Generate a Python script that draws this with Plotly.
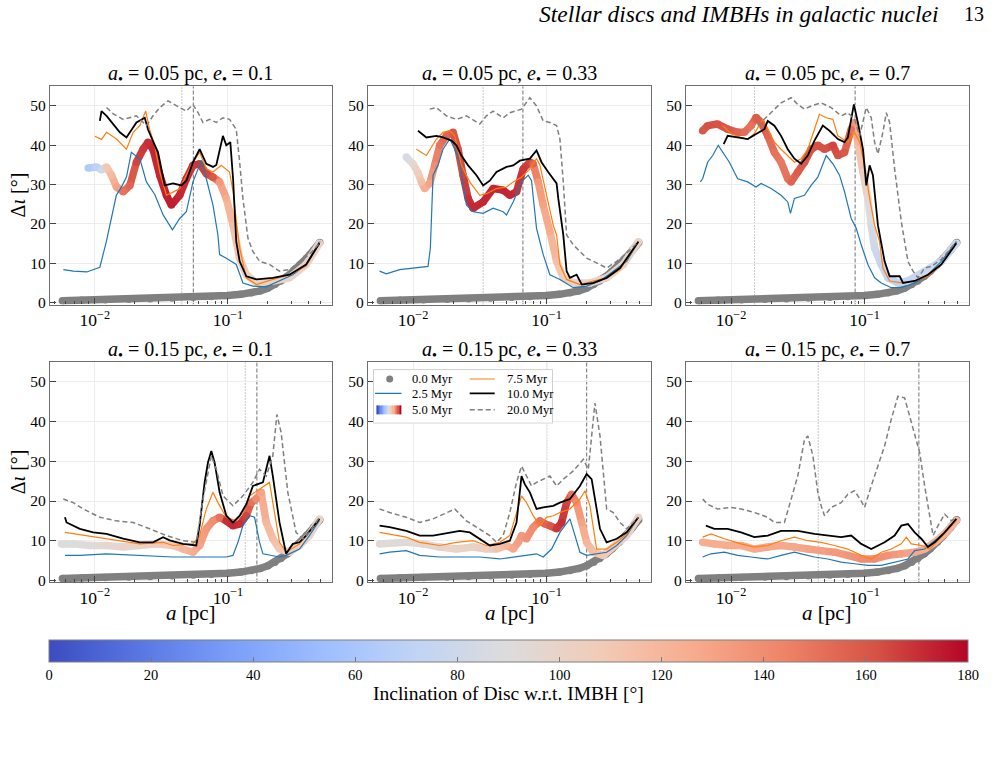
import plotly.graph_objects as go

W, H = 1001, 763
FONT = "Liberation Serif"

# ---------------- data ----------------
A_STAR = ["0.05", "0.05", "0.05", "0.15", "0.15", "0.15"]
E_STAR = ["0.1", "0.33", "0.7", "0.1", "0.33", "0.7"]

T00_A = [0.0057, 0.008, 0.012, 0.018, 0.026, 0.038, 0.055, 0.075, 0.1, 0.125, 0.15, 0.175, 0.2, 0.225, 0.25, 0.28, 0.31, 0.35, 0.39, 0.44, 0.49]
T00_Y = [0.5, 0.6, 0.7, 0.85, 1.0, 1.15, 1.35, 1.55, 1.8, 2.1, 2.5, 3.0, 3.7, 4.6, 5.5, 6.7, 8.0, 9.6, 11.3, 13.3, 15.3]

# panel 1 : a=0.05, e=0.1
P1_A25 = [0.0058, 0.0069, 0.0087, 0.0109, 0.0122, 0.0133, 0.0145, 0.0159, 0.0173, 0.0188, 0.0218, 0.0244, 0.0282, 0.0326, 0.0383, 0.0434, 0.0487, 0.0546, 0.0631, 0.0688, 0.0772, 0.0841, 0.0866, 0.0972, 0.1155, 0.1296, 0.154, 0.194, 0.244, 0.307, 0.387, 0.487]
P1_Y25 = [8.4, 8.0, 7.8, 9.0, 15.5, 21.0, 27.3, 29.5, 32.0, 38.2, 36.5, 30.7, 27.5, 22.3, 18.5, 21.4, 23.1, 30.7, 36.1, 31.5, 24.8, 17.2, 12.2, 11.3, 9.7, 5.0, 4.2, 4.0, 5.5, 7.1, 9.7, 15.5]
P1_A50 = [0.00891, 0.01029, 0.01122, 0.01224, 0.01334, 0.01454, 0.01633, 0.01834, 0.02054, 0.02304, 0.02512, 0.02738, 0.03076, 0.03451, 0.03758, 0.0434, 0.0487, 0.0546, 0.0613, 0.0688, 0.0772, 0.0866, 0.0972, 0.1093, 0.1225, 0.1374, 0.1637, 0.2175, 0.2901, 0.387, 0.487]
P1_Y50 = [34.2, 34.5, 33.8, 34.5, 32.4, 29.4, 28.2, 29.8, 35.7, 39, 40.8, 39, 32.4, 27.3, 24.8, 27.3, 31.5, 34.9, 35.3, 32.8, 31.9, 30.7, 26.5, 19.7, 11.3, 7.1, 5.0, 5.5, 6.3, 9.7, 15.1]
P1_I50 = [65, 70, 80, 110, 118, 130, 150, 155, 165, 168, 170, 172, 172, 174, 174, 172, 170, 168, 168, 165, 160, 135, 125, 115, 110, 105, 100, 100, 100, 100, 100]
P1_A75 = [0.01, 0.01122, 0.01224, 0.01454, 0.01728, 0.01939, 0.02175, 0.0241, 0.02582, 0.0282, 0.03076, 0.03451, 0.0387, 0.0434, 0.0487, 0.0546, 0.0613, 0.0688, 0.0772, 0.0891, 0.1028, 0.1093, 0.119, 0.1225, 0.1374, 0.1637, 0.2175, 0.2901, 0.387, 0.487]
P1_Y75 = [42.3, 41.5, 43.3, 41.6, 39, 43.3, 45, 48.7, 44, 40, 33.2, 27.3, 28.1, 29, 32.4, 35.7, 38.2, 34, 33.2, 34.9, 33.2, 28.2, 17.2, 13.9, 6.3, 4.6, 5.9, 7.1, 9.3, 15.1]
P1_A100 = [0.0109, 0.01122, 0.01224, 0.0154, 0.01728, 0.02054, 0.02371, 0.0251, 0.02738, 0.02985, 0.0335, 0.0387, 0.0447, 0.0487, 0.0546, 0.0613, 0.0688, 0.0772, 0.0818, 0.0917, 0.0972, 0.1042, 0.1093, 0.1155, 0.1225, 0.1374, 0.1637, 0.2175, 0.2901, 0.387, 0.487]
P1_Y100 = [46.2, 48.7, 47.5, 43.3, 42, 45.8, 47, 44, 41, 38.2, 29.8, 30.3, 29.8, 31, 35.7, 39, 35.3, 34.5, 35, 42.4, 40, 40.8, 31.5, 15.5, 10.5, 6.7, 5.9, 6.3, 7.1, 9.7, 15.1]
P1_A200 = [0.01224, 0.01374, 0.01633, 0.02054, 0.02441, 0.02738, 0.03076, 0.03548, 0.0434, 0.0487, 0.0546, 0.0596, 0.0649, 0.0729, 0.0818, 0.0917, 0.1028, 0.1155, 0.1225, 0.1296, 0.1413, 0.154, 0.1729, 0.2054, 0.2441, 0.2901, 0.3447, 0.4093, 0.4993]
P1_Y200 = [49.6, 48, 46.6, 47.5, 45, 47.5, 49.6, 51.3, 49.6, 48.7, 50.4, 48.3, 45.8, 46.6, 45.8, 47, 46.6, 44, 35.7, 26.5, 16.4, 13, 10.5, 9.7, 8, 8.4, 10.5, 12.2, 15.5]

# panel 2 : a=0.05, e=0.33
P2_A25 = [0.00562, 0.00631, 0.00794, 0.01059, 0.01296, 0.01349, 0.01413, 0.01539, 0.01679, 0.01884, 0.02054, 0.02239, 0.02512, 0.02818, 0.0335, 0.03981, 0.04732, 0.05012, 0.05623, 0.06494, 0.07286, 0.07718, 0.0841, 0.0944, 0.1059, 0.1259, 0.1585, 0.1995, 0.2512, 0.3162, 0.3981, 0.487]
P2_Y25 = [8.0, 7.3, 8.4, 8.8, 9.2, 13.9, 32.4, 34.9, 39, 41.6, 39, 35.7, 24.8, 23.1, 22.7, 24, 23.1, 22.3, 25.6, 30.7, 32.4, 31, 18.9, 12.2, 7.1, 5.9, 3.8, 4.2, 5.5, 8, 10.5, 15.5]
P2_A50 = [0.00891, 0.01, 0.0109, 0.01155, 0.01223, 0.01334, 0.01454, 0.01585, 0.01778, 0.01995, 0.02175, 0.02371, 0.02585, 0.02818, 0.0335, 0.03981, 0.04732, 0.05309, 0.05957, 0.06683, 0.075, 0.0794, 0.0866, 0.0944, 0.1059, 0.1189, 0.1334, 0.1585, 0.2113, 0.2818, 0.3758, 0.487]
P2_Y50 = [37, 35.3, 33, 30.7, 29, 30.3, 34.9, 40, 42.4, 43.3, 39, 32.4, 26.5, 24, 25.6, 29, 28.6, 27.3, 28.2, 34, 35.7, 35.3, 30.7, 24.8, 18.1, 10.5, 6.3, 5, 5, 6.3, 9.7, 15.5]
P2_I50 = [85, 95, 105, 115, 125, 130, 140, 150, 155, 160, 162, 165, 170, 172, 172, 172, 172, 172, 170, 168, 165, 155, 135, 130, 125, 115, 105, 100, 100, 100, 100, 100]
P2_A75 = [0.01059, 0.01259, 0.01496, 0.01679, 0.01884, 0.02054, 0.02303, 0.0266, 0.03162, 0.03548, 0.04217, 0.05012, 0.05623, 0.06494, 0.075, 0.0841, 0.0891, 0.1, 0.1122, 0.1189, 0.1259, 0.1413, 0.1778, 0.2239, 0.2818, 0.3548, 0.487]
P2_Y75 = [39, 37.4, 41.6, 43.3, 43.7, 42.4, 34.9, 30.7, 27.3, 27.7, 29, 29.4, 30.7, 31.9, 34, 36.6, 35, 27.3, 19.7, 17.2, 9.7, 5.9, 4.6, 5.5, 6.3, 8.4, 15.5]
P2_A100 = [0.0109, 0.01259, 0.01496, 0.01679, 0.01941, 0.02113, 0.02303, 0.02585, 0.02985, 0.0335, 0.03758, 0.04217, 0.05012, 0.05623, 0.0631, 0.075, 0.0841, 0.0917, 0.1028, 0.1189, 0.1224, 0.1334, 0.1413, 0.1496, 0.1679, 0.1834, 0.2239, 0.2818, 0.3548, 0.487]
P2_Y100 = [43.7, 42, 42.4, 42, 41.2, 40, 37.4, 34.9, 32.4, 29.8, 31, 33.2, 34.5, 34.9, 36.1, 36.6, 38.7, 35.7, 33.2, 30.3, 26.5, 17.2, 8, 6.3, 7.1, 4.6, 5.0, 6.3, 8.8, 15.5]
P2_A200 = [0.01334, 0.01496, 0.01778, 0.02113, 0.02512, 0.03162, 0.03548, 0.03981, 0.04732, 0.05309, 0.06494, 0.075, 0.0841, 0.0944, 0.1059, 0.1189, 0.1259, 0.1334, 0.1413, 0.1585, 0.1778, 0.1995, 0.2239, 0.2512, 0.2818, 0.335, 0.3981, 0.487]
P2_Y200 = [49.2, 49.6, 47.5, 46.6, 47.5, 45.4, 47.5, 48.7, 47, 48.3, 49.2, 52.1, 50, 46.2, 45.8, 45, 41.6, 30.7, 17.2, 14.7, 13, 11.3, 10.5, 9.7, 8.8, 10.5, 12.6, 15.5]

# panel 3 : a=0.05, e=0.7
P3_A25 = [0.00589, 0.00613, 0.00668, 0.00729, 0.00803, 0.00866, 0.00972, 0.01122, 0.01334, 0.0154, 0.01679, 0.01995, 0.02371, 0.02661, 0.02786, 0.02985, 0.03548, 0.03981, 0.04467, 0.05164, 0.05795, 0.06494, 0.07079, 0.07943, 0.0866, 0.09441, 0.1059, 0.1189, 0.1334, 0.1585, 0.1884, 0.2371, 0.2985, 0.3758, 0.487]
P3_Y25 = [30.7, 31.5, 35.7, 37.4, 40, 38.2, 35.7, 31.5, 30.7, 29.4, 30.3, 29, 27.3, 25.6, 22.7, 26.5, 27.3, 29.8, 31.9, 37.4, 35.3, 32.4, 28.2, 21.4, 18.9, 14.7, 9.7, 6.3, 5.0, 3.8, 3.8, 5.0, 7.1, 10.5, 15.5]
P3_A50 = [0.00613, 0.00668, 0.00794, 0.00944, 0.01122, 0.01259, 0.01413, 0.0154, 0.01679, 0.01884, 0.02113, 0.02371, 0.02661, 0.02818, 0.03162, 0.03548, 0.03981, 0.04467, 0.05012, 0.05795, 0.0631, 0.07079, 0.07943, 0.08414, 0.08913, 0.09727, 0.1059, 0.1122, 0.1189, 0.1334, 0.1496, 0.1778, 0.2113, 0.2818, 0.3758, 0.487]
P3_Y50 = [43.7, 45, 45.4, 44.1, 43.3, 43.3, 45, 47.1, 45.8, 42.4, 38.2, 35.7, 31.5, 30.7, 33.2, 35.7, 39, 40, 39, 40, 37.4, 38.2, 44.1, 45.8, 40.8, 33.2, 26.5, 19.7, 13.9, 9.7, 6.3, 5.0, 5.5, 8, 10.5, 15.1]
P3_I50 = [160, 162, 162, 160, 155, 152, 150, 158, 158, 155, 150, 148, 150, 155, 158, 160, 162, 162, 162, 165, 162, 160, 150, 135, 120, 105, 95, 85, 80, 75, 72, 72, 75, 80, 80, 80]
P3_A75 = [0.00866, 0.01, 0.01189, 0.01334, 0.01496, 0.01728, 0.01884, 0.02113, 0.02371, 0.02661, 0.02985, 0.0335, 0.03758, 0.04217, 0.04597, 0.05164, 0.05795, 0.0631, 0.0688, 0.07499, 0.08414, 0.09183, 0.1, 0.1091, 0.1189, 0.1296, 0.1372, 0.154, 0.1884, 0.2371, 0.2985, 0.3758, 0.487]
P3_Y75 = [45, 43, 42, 41.5, 43, 46.6, 44.1, 40.8, 39, 37.4, 35.7, 36.6, 39, 44.1, 47.9, 47, 46.6, 42.4, 41.6, 40.8, 43.3, 40.8, 34.9, 26.5, 19.7, 15.5, 8.8, 5.5, 5.0, 5.5, 6.7, 9.7, 15.1]
P3_A100 = [0.00881, 0.00944, 0.01122, 0.01334, 0.0154, 0.01778, 0.01884, 0.02113, 0.02371, 0.02661, 0.02985, 0.0335, 0.03758, 0.04217, 0.0487, 0.05463, 0.0631, 0.07079, 0.07499, 0.08318, 0.08913, 0.09727, 0.103, 0.1091, 0.1155, 0.1259, 0.1413, 0.154, 0.1832, 0.1941, 0.2371, 0.2985, 0.3758, 0.487]
P3_Y100 = [40.3, 42.4, 42, 41.6, 42.9, 44.1, 46.2, 45, 42.4, 39, 36.6, 35.3, 37.4, 41.2, 45, 43.7, 41.6, 40.8, 42, 50.4, 45.8, 39, 29.8, 34.9, 32.4, 19.7, 10.5, 6.7, 6.7, 5.0, 5.5, 7.1, 9.7, 15.1]
P3_A200 = [0.01585, 0.01884, 0.02113, 0.02371, 0.02818, 0.03162, 0.03548, 0.03981, 0.04732, 0.05623, 0.06683, 0.07499, 0.08414, 0.09183, 0.103, 0.1122, 0.1189, 0.1259, 0.1372, 0.1454, 0.154, 0.1679, 0.1884, 0.2113, 0.2307, 0.2512, 0.2818, 0.3162, 0.3758, 0.487]
P3_Y200 = [45, 47.5, 49.2, 50.8, 52.1, 50.4, 49.2, 50, 50.8, 49.6, 47.5, 48.3, 46.6, 42.4, 49.6, 47, 40.8, 37.8, 43.3, 48.3, 45.8, 34, 20.6, 10.5, 8, 6.3, 8.8, 9.2, 11, 15.5]

# panel 4 : a=0.15, e=0.1
P4_A25 = [0.00596, 0.00772, 0.01223, 0.02175, 0.03868, 0.0688, 0.09727, 0.1091, 0.1189, 0.1296, 0.1454, 0.1585, 0.1729, 0.1832, 0.2175, 0.2441, 0.2738, 0.3451, 0.4093, 0.487]
P4_Y25 = [6.3, 6.3, 6.7, 6.3, 5.9, 5.9, 5.9, 6.3, 9.6, 13.8, 16.3, 15.9, 9.6, 6.7, 6.3, 5.9, 6.3, 7.9, 11.3, 15.1]
P4_A50 = [0.00562, 0.00688, 0.00917, 0.01223, 0.01633, 0.02175, 0.02901, 0.03868, 0.04597, 0.05463, 0.06124, 0.0688, 0.07718, 0.0866, 0.09727, 0.1091, 0.1225, 0.1374, 0.1496, 0.1633, 0.1778, 0.1941, 0.2175, 0.2441, 0.2901, 0.3451, 0.4093, 0.487]
P4_Y50 = [9.2, 9.2, 8.8, 8.8, 8.4, 8.8, 9.2, 8.8, 7.9, 7.1, 8.8, 13, 15, 15.9, 15, 13.8, 14.2, 16.3, 19.6, 20.5, 22.2, 14.6, 10.5, 7.9, 7.1, 8.8, 11.3, 15.5]
P4_I50 = [90, 90, 92, 95, 98, 100, 105, 110, 120, 125, 130, 135, 140, 150, 170, 172, 170, 165, 150, 140, 130, 120, 115, 110, 105, 105, 100, 100]
P4_A75 = [0.00596, 0.00772, 0.01223, 0.02175, 0.03256, 0.03868, 0.05463, 0.06124, 0.0688, 0.07718, 0.08414, 0.09727, 0.1155, 0.1296, 0.1454, 0.1729, 0.2054, 0.2175, 0.2441, 0.2738, 0.3451, 0.487]
P4_Y75 = [12.1, 11.5, 10.5, 9.2, 9.6, 8.8, 9.2, 11.3, 18, 22.2, 19.6, 15.9, 15, 17.1, 21.3, 23, 24.7, 19.6, 9.6, 7.1, 9.2, 15.5]
P4_A100 = [0.00596, 0.00613, 0.00772, 0.00972, 0.01223, 0.01633, 0.02175, 0.02738, 0.03256, 0.03652, 0.04597, 0.05783, 0.06124, 0.06683, 0.07079, 0.07499, 0.07943, 0.0866, 0.09727, 0.1091, 0.1225, 0.1374, 0.154, 0.1832, 0.2054, 0.2175, 0.2441, 0.2738, 0.3072, 0.3447, 0.3868, 0.487]
P4_Y100 = [15.9, 14.6, 13, 12.1, 11.7, 10.5, 9.6, 9.6, 10.9, 10.1, 9.2, 8.8, 13.8, 24.7, 29.7, 32.6, 29.7, 22.2, 16.3, 14.6, 16.3, 19.2, 23.8, 24.7, 31.4, 26.3, 14.6, 6.7, 9.2, 9.6, 11.3, 15.5]
P4_A200 = [0.00579, 0.00688, 0.00818, 0.0109, 0.01454, 0.01939, 0.02582, 0.03451, 0.04597, 0.05783, 0.06494, 0.07499, 0.08183, 0.09183, 0.1091, 0.1296, 0.154, 0.1729, 0.1941, 0.2175, 0.2333, 0.2512, 0.2818, 0.3251, 0.3652, 0.4093, 0.487]
P4_Y200 = [20.5, 19.6, 18, 15.9, 15, 14.6, 13, 11.3, 10, 9.6, 20.5, 31.4, 28, 21.3, 18.8, 21.3, 24.7, 28, 26.3, 31.4, 41.8, 37.2, 22.2, 12.1, 10.5, 12.1, 15.9]

# panel 5 : a=0.15, e=0.33
P5_A25 = [0.00562, 0.00668, 0.00891, 0.01122, 0.01585, 0.02239, 0.03162, 0.04467, 0.05623, 0.07079, 0.08414, 0.09441, 0.1, 0.1091, 0.1259, 0.1496, 0.1633, 0.1778, 0.1995, 0.2371, 0.2818, 0.335, 0.3981, 0.487]
P5_Y25 = [6.7, 7.1, 7.5, 6.3, 5.9, 5.9, 5.9, 5.4, 5.9, 6.3, 6.7, 5.9, 6.7, 7.9, 12.1, 15.5, 11.3, 7.1, 6.3, 6.7, 7.1, 8.8, 11.3, 15.9]
P5_A50 = [0.00562, 0.00891, 0.01189, 0.01585, 0.02113, 0.02818, 0.03548, 0.04217, 0.05012, 0.05623, 0.06138, 0.06494, 0.07079, 0.07943, 0.08913, 0.09727, 0.1059, 0.1189, 0.1296, 0.1413, 0.154, 0.1679, 0.1832, 0.1995, 0.2239, 0.2661, 0.335, 0.3981, 0.487]
P5_Y50 = [9.2, 9.6, 9.2, 8.4, 7.9, 8.4, 7.9, 7.9, 8.8, 7.9, 9.6, 11.3, 10.5, 13.4, 15, 14.2, 13.8, 13, 14.6, 19.6, 21.7, 19.6, 14.6, 9.6, 7.1, 6.3, 9.2, 11.3, 15.9]
P5_I50 = [92, 92, 95, 98, 100, 102, 105, 112, 120, 128, 132, 135, 138, 140, 150, 155, 160, 168, 170, 165, 150, 140, 130, 120, 115, 110, 105, 100, 100]
P5_A75 = [0.00562, 0.00668, 0.00891, 0.01122, 0.01585, 0.02113, 0.02818, 0.03548, 0.04467, 0.05309, 0.05957, 0.06494, 0.07079, 0.07943, 0.08913, 0.1, 0.1122, 0.1259, 0.1496, 0.1778, 0.1941, 0.2113, 0.2371, 0.2818, 0.335, 0.3981, 0.487]
P5_Y75 = [12.1, 11.7, 10.9, 9.6, 8.8, 9.6, 10, 8.8, 9.6, 11.3, 17.1, 21.3, 19.6, 16.3, 13.8, 15.9, 16.3, 17.1, 18, 20.5, 22.6, 18.8, 7.9, 7.9, 9.6, 11.7, 15.9]
P5_A100 = [0.00562, 0.00668, 0.00891, 0.01122, 0.01413, 0.01884, 0.02239, 0.02661, 0.0335, 0.03758, 0.04467, 0.05309, 0.05957, 0.06494, 0.0688, 0.07499, 0.08414, 0.09441, 0.1122, 0.1259, 0.1496, 0.1778, 0.1995, 0.2175, 0.2371, 0.2512, 0.2818, 0.335, 0.3981, 0.487]
P5_Y100 = [13.8, 13.4, 12.5, 11.3, 11.3, 12.1, 12.5, 12.1, 10, 8.8, 9.2, 10, 14.6, 26.3, 24.2, 22.2, 18, 18.4, 18.8, 19.6, 20.5, 23.8, 26.8, 25.5, 18, 13, 9.6, 10.5, 12.1, 15.9]
P5_A200 = [0.00562, 0.00668, 0.00891, 0.01122, 0.01413, 0.01778, 0.02054, 0.02512, 0.03162, 0.03758, 0.04217, 0.04732, 0.05309, 0.05957, 0.06494, 0.07079, 0.07718, 0.08414, 0.09441, 0.1059, 0.1189, 0.1334, 0.1585, 0.1884, 0.2054, 0.2303, 0.2512, 0.2818, 0.3162, 0.3548, 0.3981, 0.487]
P5_Y200 = [18, 17.1, 15.9, 14.6, 15.5, 17.1, 18, 15, 13, 11.3, 9.6, 11.3, 17.1, 24.7, 28.8, 26.3, 23.8, 24.7, 25.5, 26.3, 23.8, 25.5, 27.6, 30.5, 28, 44.7, 36.4, 18, 17.1, 14.6, 13, 15.9]

# panel 6 : a=0.15, e=0.7
P6_A25 = [0.00613, 0.00708, 0.00891, 0.01122, 0.01413, 0.01884, 0.02371, 0.02985, 0.0335, 0.04217, 0.05309, 0.06683, 0.08414, 0.1059, 0.1334, 0.1679, 0.2113, 0.2371, 0.2818, 0.335, 0.3981, 0.487]
P6_Y25 = [5.9, 6.7, 7.1, 6.3, 5.9, 5.4, 6.3, 7.1, 6.7, 5.9, 5.4, 4.6, 4.2, 3.8, 3.8, 4.6, 5.4, 7.5, 7.9, 10, 12.1, 15.5]
P6_A50 = [0.00613, 0.0075, 0.00944, 0.01189, 0.01496, 0.01884, 0.02371, 0.02985, 0.03758, 0.04732, 0.05957, 0.07499, 0.09441, 0.1189, 0.1496, 0.1884, 0.2371, 0.2818, 0.335, 0.3981, 0.487]
P6_Y50 = [9.6, 9.2, 8.8, 8.8, 7.9, 8.4, 8.8, 8.4, 7.9, 7.5, 7.1, 6.3, 5.4, 5.4, 6.3, 6.7, 7.1, 7.9, 9.6, 11.7, 15.1]
P6_I50 = [125, 125, 126, 126, 127, 128, 128, 128, 130, 132, 134, 136, 140, 140, 138, 132, 128, 125, 122, 120, 120]
P6_A75 = [0.00613, 0.00708, 0.00891, 0.01189, 0.01496, 0.01884, 0.02371, 0.02985, 0.03758, 0.04732, 0.05957, 0.07499, 0.09441, 0.1122, 0.1334, 0.1585, 0.1884, 0.2054, 0.2239, 0.2661, 0.3076, 0.3758, 0.487]
P6_Y75 = [10.9, 11.7, 10.5, 9.2, 8.4, 8.8, 10, 10.9, 10, 9.6, 8.8, 7.9, 6.3, 5.4, 7.1, 7.9, 9.2, 10.9, 9.2, 8.8, 7.9, 10.9, 15.1]
P6_A100 = [0.00649, 0.0075, 0.00944, 0.01189, 0.01496, 0.01884, 0.02371, 0.03162, 0.04217, 0.05309, 0.06683, 0.07943, 0.09441, 0.1122, 0.1259, 0.1413, 0.1679, 0.1884, 0.2113, 0.2371, 0.2661, 0.2985, 0.335, 0.3981, 0.487]
P6_Y100 = [13.8, 13, 13, 12.1, 10.9, 11.3, 12.5, 12.5, 11.7, 11.3, 10.9, 11.3, 9.2, 7.9, 8.8, 9.6, 11.3, 13.8, 14.2, 12.1, 10.5, 8.4, 9.6, 12.1, 15.5]
P6_A200 = [0.00613, 0.00668, 0.00794, 0.01, 0.01189, 0.01496, 0.01884, 0.02113, 0.02512, 0.02818, 0.03162, 0.03548, 0.03758, 0.04103, 0.04467, 0.04732, 0.05012, 0.05623, 0.06683, 0.07499, 0.08414, 0.09441, 0.1, 0.1122, 0.1259, 0.1413, 0.1585, 0.1778, 0.1995, 0.2113, 0.2371, 0.2585, 0.2818, 0.3076, 0.3258, 0.3548, 0.3981, 0.4467, 0.487]
P6_Y200 = [20.5, 19.2, 18, 18.4, 18, 17.1, 15.9, 14.6, 14.6, 20.5, 26.3, 35.5, 36.4, 31.4, 22.2, 18.8, 16.3, 18.4, 19.6, 21.7, 22.6, 20, 18.4, 23.8, 28.8, 33.9, 40.6, 46.4, 46, 43, 37.2, 32.2, 23.8, 16.3, 11.3, 13.8, 16.7, 15, 15.9]

YTICKS = [0, 10, 20, 30, 40, 50]
CBAR_TICKS = [0, 20, 40, 60, 80, 100, 120, 140, 160, 180]
LEGEND_LABELS = ["0.0 Myr", "2.5 Myr", "5.0 Myr", "7.5 Myr", "10.0 Myr", "20.0 Myr"]

# ---------------- styling ----------------
COOLWARM = [[0.0, '#3b4cc0'], [0.1, '#5977e3'], [0.2, '#7b9ff9'], [0.3, '#9ebeff'],
            [0.4, '#c0d4f5'], [0.5, '#dddcdc'], [0.6, '#f2cbb7'], [0.7, '#f7ac8e'],
            [0.8, '#ee8468'], [0.9, '#d65244'], [1.0, '#b40426']]
C00, C25, C75, C100, C200 = '#808080', '#1f77b4', '#ff7f0e', '#000000', '#7f7f7f'


def hex2rgb(h):
    h = h.lstrip('#')
    return [int(h[i:i + 2], 16) for i in (0, 2, 4)]


def cw(v):
    t = min(max(v / 180.0, 0.0), 1.0)
    for i in range(len(COOLWARM) - 1):
        t0, c0 = COOLWARM[i]
        t1, c1 = COOLWARM[i + 1]
        if t <= t1:
            f = (t - t0) / (t1 - t0)
            a, b = hex2rgb(c0), hex2rgb(c1)
            return 'rgb(%d,%d,%d)' % tuple(round(a[k] + f * (b[k] - a[k])) for k in range(3))
    return COOLWARM[-1][1]


PANELS = [
    (P1_A25, P1_Y25, P1_A50, P1_Y50, P1_I50, P1_A75, P1_Y75, P1_A100, P1_Y100, P1_A200, P1_Y200),
    (P2_A25, P2_Y25, P2_A50, P2_Y50, P2_I50, P2_A75, P2_Y75, P2_A100, P2_Y100, P2_A200, P2_Y200),
    (P3_A25, P3_Y25, P3_A50, P3_Y50, P3_I50, P3_A75, P3_Y75, P3_A100, P3_Y100, P3_A200, P3_Y200),
    (P4_A25, P4_Y25, P4_A50, P4_Y50, P4_I50, P4_A75, P4_Y75, P4_A100, P4_Y100, P4_A200, P4_Y200),
    (P5_A25, P5_Y25, P5_A50, P5_Y50, P5_I50, P5_A75, P5_Y75, P5_A100, P5_Y100, P5_A200, P5_Y200),
    (P6_A25, P6_Y25, P6_A50, P6_Y50, P6_I50, P6_A75, P6_Y75, P6_A100, P6_Y100, P6_A200, P6_Y200),
]

XDOM = [[50 / W, 332 / W], [368 / W, 651 / W], [686 / W, 969 / W]]
YDOM = [[1 - 307 / H, 1 - 87 / H], [1 - 587 / H, 1 - 365 / H]]
TITLE_Y = [1 - 75 / H, 1 - 353 / H]
YRANGE = [-0.5, 55]

fig = go.Figure()
layout = dict(width=W, height=H, margin=dict(l=0, r=0, t=0, b=0),
              paper_bgcolor='white', plot_bgcolor='white', showlegend=False,
              hovermode=False, font=dict(family=FONT, color='black', size=14))
annotations = []
shapes = []

for k, P in enumerate(PANELS):
    a25, y25, a50, y50, i50, a75, y75, a100, y100, a200, y200 = P
    for xs, ys in [(a25, y25), (a50, y50), (a75, y75), (a100, y100), (a200, y200), (T00_A, T00_Y)]:
        assert len(xs) == len(ys), (k, len(xs), len(ys))
    assert len(i50) == len(a50)
    r, c = divmod(k, 3)
    sfx = '' if k == 0 else str(k + 1)
    xr, yr = 'x' + sfx, 'y' + sfx
    kw = dict(xaxis=xr, yaxis=yr, showlegend=False, hoverinfo='skip')

    # 0.0 Myr
    fig.add_trace(go.Scatter(x=T00_A, y=T00_Y, mode='lines+markers',
                             line=dict(color=C00, width=7.5), marker=dict(color=C00, size=7.5), **kw))
    # 5.0 Myr (coloured by inclination)
    for j in range(len(a50) - 1):
        fig.add_trace(go.Scatter(x=[a50[j], a50[j + 1]], y=[y50[j], y50[j + 1]], mode='lines',
                                 line=dict(color=cw((i50[j] + i50[j + 1]) / 2), width=7.5), **kw))
    fig.add_trace(go.Scatter(x=a50, y=y50, mode='markers',
                             marker=dict(size=7.5, color=i50, coloraxis='coloraxis'), **kw))
    # 2.5 / 7.5 / 10 / 20 Myr
    fig.add_trace(go.Scatter(x=a25, y=y25, mode='lines', line=dict(color=C25, width=1.2), **kw))
    fig.add_trace(go.Scatter(x=a75, y=y75, mode='lines', line=dict(color=C75, width=1.2), **kw))
    fig.add_trace(go.Scatter(x=a100, y=y100, mode='lines', line=dict(color=C100, width=1.8), **kw))
    fig.add_trace(go.Scatter(x=a200, y=y200, mode='lines',
                             line=dict(color=C200, width=1.5, dash='5px,3px'), **kw))

    astar, estar = float(A_STAR[k]), float(E_STAR[k])
    peri, apo = astar * (1 - estar), astar * (1 + estar)
    shapes.append(dict(type='line', xref=xr, yref=yr, x0=peri, x1=peri, y0=YRANGE[0], y1=YRANGE[1],
                       layer='below', line=dict(color='#9a9a9a', width=1.1, dash='1px,2px')))
    shapes.append(dict(type='line', xref=xr, yref=yr, x0=apo, x1=apo, y0=YRANGE[0], y1=YRANGE[1],
                       layer='below', line=dict(color='#8a8a8a', width=1.2, dash='4px,2px')))

    layout['xaxis' + sfx] = dict(domain=XDOM[c], anchor=yr, type='log', range=[-2.337, -0.218],
                                 dtick=1, exponentformat='power', showexponent='all',
                                 ticks='inside', ticklen=6, tickwidth=1, tickcolor='#444',
                                 minor=dict(ticks='inside', ticklen=3, tickwidth=0.8, tickcolor='#444',
                                            dtick='D1', showgrid=False),
                                 showgrid=True, gridcolor='#ececec', gridwidth=1,
                                 showline=True, mirror=True, linecolor='#6e6e6e', linewidth=1.3,
                                 zeroline=False, tickfont=dict(size=14, family=FONT, color='black'))
    layout['yaxis' + sfx] = dict(domain=YDOM[r], anchor=xr, range=YRANGE, tickvals=YTICKS,
                                 ticks='inside', ticklen=6, tickwidth=1, tickcolor='#444',
                                 showgrid=True, gridcolor='#ececec', gridwidth=1,
                                 showline=True, mirror=True, linecolor='#6e6e6e', linewidth=1.3,
                                 zeroline=False, tickfont=dict(size=15.5, family=FONT, color='black'))
    xc = (XDOM[c][0] + XDOM[c][1]) / 2
    annotations.append(dict(xref='paper', yref='paper', x=xc, y=TITLE_Y[r], xanchor='center', yanchor='middle',
                            showarrow=False, font=dict(size=20, family=FONT),
                            text='<i>a</i><sub>•</sub> = %s pc, <i>e</i><sub>•</sub> = %s' % (A_STAR[k], E_STAR[k])))
    if c == 0:
        annotations.append(dict(xref='paper', yref='paper', x=18 / W, y=(YDOM[r][0] + YDOM[r][1]) / 2,
                                xanchor='center', yanchor='middle', textangle=-90, showarrow=False,
                                font=dict(size=20, family=FONT), text='Δ<i>ι</i> [°]'))
    if r == 1:
        annotations.append(dict(xref='paper', yref='paper', x=xc, y=1 - 618 / H, xanchor='center',
                                yanchor='middle', showarrow=False, font=dict(size=21, family=FONT),
                                text='<i>a</i> [pc]'))

# ---------------- legend (drawn in panel 5) ----------------
LX, LY = 'x7', 'y7'
lkw = dict(xaxis=LX, yaxis=LY, showlegend=False, hoverinfo='skip')
fig.add_trace(go.Heatmap(z=[[0]], x=[0, 180], y=[0, 55], zmin=0, zmax=1, opacity=0.85,
                         colorscale=[[0, 'white'], [1, 'white']], showscale=False,
                         xaxis=LX, yaxis=LY, hoverinfo='skip'))
fig.add_trace(go.Heatmap(z=[list(range(0, 181, 10))], x=[3.4 + 25 * i / 19 for i in range(20)],
                         y=[36.6, 45.6], coloraxis='coloraxis', xaxis=LX, yaxis=LY, hoverinfo='skip'))
fig.add_trace(go.Scatter(x=[0.5, 179.5, 179.5, 0.5, 0.5], y=[0.5, 0.5, 54.5, 54.5, 0.5], mode='lines',
                         line=dict(color='#d0d0d0', width=1), **lkw))
fig.add_trace(go.Scatter(x=[16.7], y=[10], mode='markers', marker=dict(color=C00, size=7), **lkw))
fig.add_trace(go.Scatter(x=[2, 28.5], y=[24.5, 24.5], mode='lines', line=dict(color=C25, width=1.2), **lkw))
fig.add_trace(go.Scatter(x=[96.7, 121.7], y=[10, 10], mode='lines', line=dict(color=C75, width=1.2), **lkw))
fig.add_trace(go.Scatter(x=[96.7, 121.7], y=[24.5, 24.5], mode='lines', line=dict(color=C100, width=1.8), **lkw))
fig.add_trace(go.Scatter(x=[96.7, 121.7], y=[41, 41], mode='lines',
                         line=dict(color=C200, width=1.5, dash='5px,3px'), **lkw))
for txt, lx, ly in zip(LEGEND_LABELS, [36.7, 36.7, 36.7, 131.7, 131.7, 131.7], [10, 24.8, 41.3, 10, 24.8, 41.3]):
    annotations.append(dict(xref=LX, yref=LY, x=lx, y=ly, xanchor='left', yanchor='middle', showarrow=False,
                            font=dict(size=12.5, family=FONT), text=txt))
layout['xaxis7'] = dict(domain=[373 / W, 553 / W], anchor='y7', range=[0, 180], visible=False, fixedrange=True)
layout['yaxis7'] = dict(domain=[1 - 427 / H, 1 - 372 / H], anchor='x7', range=[55, 0], visible=False, fixedrange=True)

# ---------------- colour bar ----------------
layout['coloraxis'] = dict(colorscale=COOLWARM, cmin=0, cmax=180,
                           colorbar=dict(orientation='h', x=(49 + 968) / 2 / W, xanchor='center',
                                         y=1 - 645 / H, yanchor='top', len=919 / W, lenmode='fraction',
                                         thickness=22, thicknessmode='pixels', xpad=0, ypad=0,
                                         outlinewidth=1, outlinecolor='#808080',
                                         tickvals=CBAR_TICKS, ticks='inside', ticklen=5, tickcolor='#777',
                                         tickfont=dict(size=14.5, family=FONT, color='black')))
annotations.append(dict(xref='paper', yref='paper', x=(49 + 968) / 2 / W, y=1 - 699 / H, xanchor='center',
                        yanchor='middle', showarrow=False, font=dict(size=19.5, family=FONT),
                        text='Inclination of Disc w.r.t. IMBH [°]'))

# ---------------- page header ----------------
annotations.append(dict(xref='paper', yref='paper', x=940 / W, y=1 - 14 / H, xanchor='right', yanchor='middle',
                        showarrow=False, font=dict(size=23.5, family=FONT),
                        text='<i>Stellar discs and IMBHs in galactic nuclei</i>'))
annotations.append(dict(xref='paper', yref='paper', x=986 / W, y=1 - 14 / H, xanchor='right', yanchor='middle',
                        showarrow=False, font=dict(size=20, family=FONT), text='13'))

layout['annotations'] = annotations
layout['shapes'] = shapes
fig.update_layout(**layout)
fig.write_html("out.html")
